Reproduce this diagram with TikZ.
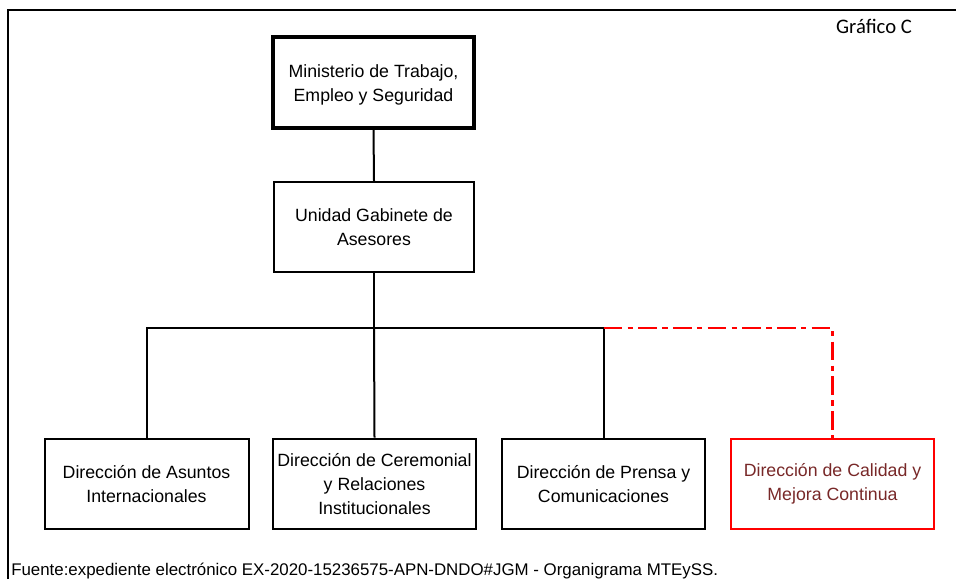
\documentclass[tikz,border=0pt]{standalone}
\usepackage{fontspec}
\setmainfont{Liberation Sans}
\newfontfamily\calfont{Carlito}
\definecolor{boxred}{RGB}{255,0,0}
\definecolor{txtred}{RGB}{120,40,40}
\begin{document}
\begin{tikzpicture}[x=0.75pt,y=-0.75pt,
  orgbox/.style={draw=black,line width=1.5pt,minimum width=150pt,minimum height=68pt,
    align=center,inner sep=2pt,font=\fontsize{13.3}{18}\selectfont},
  conn/.style={draw=black,line width=1.5pt},
  reddash/.style={draw=boxred,line width=1.6pt,dash pattern=on 14pt off 4pt on 4pt off 4pt}]
\useasboundingbox (0,0) rectangle (956,579);
\draw[line width=1.6pt] (8,579) -- (8,10) -- (956,10);
\node[font=\calfont\fontsize{15.5}{17}\selectfont] (gc) at (874,26) {Gráfico C};
\node[orgbox,line width=2.6pt,minimum width=151pt,minimum height=68pt,text depth=0pt] (min) at (373.5,82.5) {};
\node[align=center,font=\fontsize{13.3}{18}\selectfont] (mintxt) at (373.5,85) {Ministerio de Trabajo,\\Empleo y Seguridad};
\node[orgbox,minimum width=150pt,minimum height=67.5pt] (ug) at (374,227) {Unidad Gabinete de\\Asesores};
\node[orgbox,minimum width=153pt] (b1) at (146.5,484) {Dirección de Asuntos\\Internacionales};
\node[orgbox,minimum width=152pt] (b2) at (374.5,484) {Dirección de Ceremonial\\y Relaciones\\Institucionales};
\node[orgbox,minimum width=152pt] (b3) at (603.5,484) {Dirección de Prensa y\\Comunicaciones};
\node[orgbox,draw=boxred,text=txtred,minimum width=152pt] (b4) at (832.5,484) {Dirección de Calidad y\\Mejora Continua};
\coordinate (j) at (374,328);
\draw[conn] (min.south) -- (ug.north);
\draw[conn] (ug.south) -- (j);
\draw[conn] (b1.north) |- (b3.north |- j) -- (b3.north);
\draw[conn] (j) -- (b2.north);
\draw[reddash] (b3.north |- j) -| (b4.north);
\node[anchor=base west,inner sep=0pt,font=\fontsize{12.65}{14}\selectfont] (src) at (11,575) {Fuente:expediente electrónico EX-2020-15236575-APN-DNDO\#JGM - Organigrama MTEySS.};
\end{tikzpicture}
\end{document}
